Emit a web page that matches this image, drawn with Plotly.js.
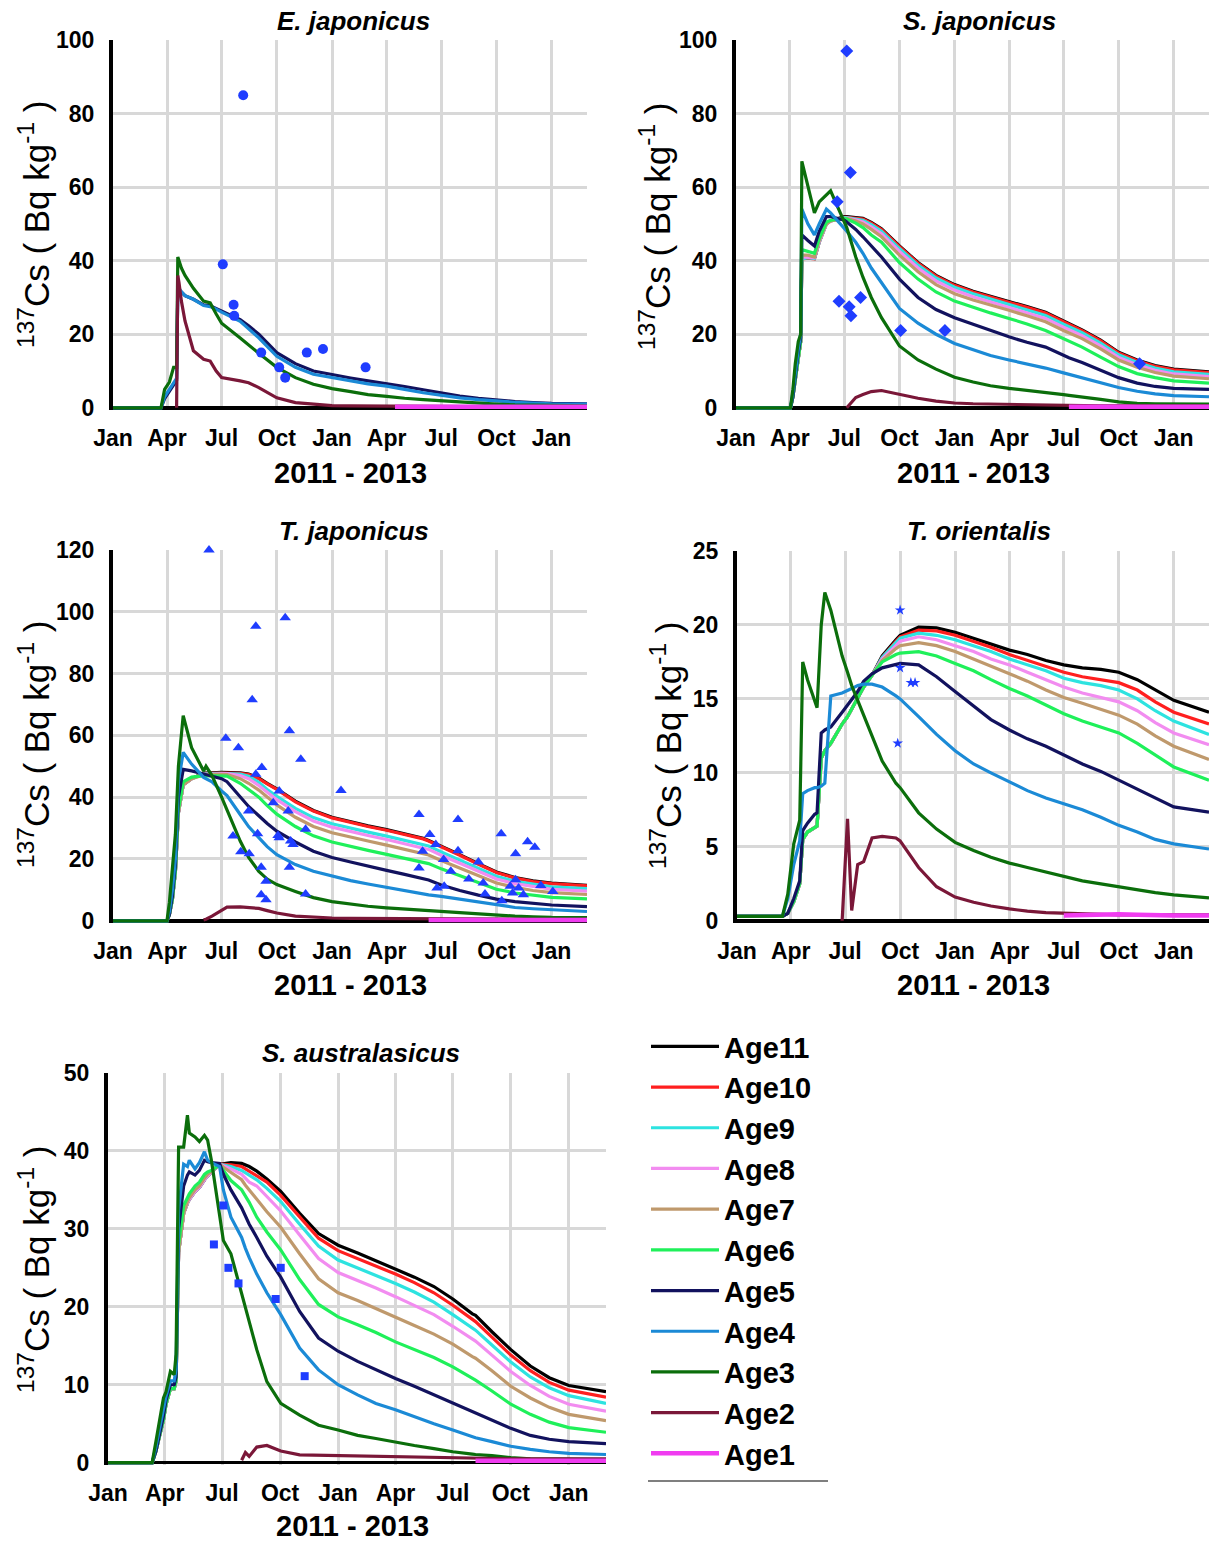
<!DOCTYPE html>
<html>
<head>
<meta charset="utf-8">
<script src="https://cdn.plot.ly/plotly-3.0.1.min.js"></script>
<style>html,body{margin:0;padding:0;background:#fff;}#chart{width:1218px;height:1546px;}</style>
</head>
<body>
<div id="chart"></div>
<script>
// ---------------- Data ----------------
const ageNames = ['Age11','Age10','Age9','Age8','Age7','Age6','Age5','Age4','Age3','Age2','Age1'];
const panelTitles = ['E. japonicus','S. japonicus','T. japonicus','T. orientalis','S. australasicus'];
const xTitle = '2011 - 2013';
const yTitle = '<sup>137</sup>Cs ( Bq kg<sup>-1</sup> )';

// E. japonicus
const ejDates = ['2011-01-01','2011-03-22','2011-03-28','2011-04-05','2011-04-12','2011-04-17','2011-04-19','2011-04-21','2011-04-25','2011-05-01','2011-05-15','2011-06-01','2011-06-12','2011-06-22','2011-07-01','2011-08-01','2011-08-15','2011-09-01','2011-10-01','2011-11-01','2011-12-01','2012-01-01','2012-02-01','2012-03-01','2012-04-01','2012-04-15','2012-05-01','2012-06-01','2012-07-01','2012-08-01','2012-09-01','2012-10-01','2012-11-01','2012-12-01','2013-01-01','2013-03-01'];
const ejAge5 = [0,0,2.5,4.5,6.5,7.5,32,32,31.5,30.5,29.5,28,27.7,27,26.3,24,22.3,20,15,12,10,9,8.1,7.3,6.6,6.2,5.8,4.9,4.0,3.2,2.6,2.1,1.7,1.4,1.2,1.1];
const ejAge4 = [0,0,3,5,7,8,33,32.5,31.5,30.5,29.5,27.8,27.5,26.8,26,23.5,21.5,19,14,11,9.1,8.2,7.3,6.5,5.9,5.4,5.0,4.1,3.4,2.7,2.2,1.8,1.5,1.3,1.1,1.0];
const ejAge3 = [0,0,5,7,11,11,41,40,38,36,32.5,29,28.5,25.5,23,19,17,14.8,11,8.2,6.4,5.2,4.4,3.6,3.1,2.8,2.6,2.2,1.9,1.5,1.2,1.0,0.8,0.7,0.6,0.5];
const ejAge2 = [null,null,null,null,null,0,36,34,29,23.6,15.5,13.2,12.7,10,8.2,7.3,6.8,5.5,2.7,1.4,0.9,0.6,0.5,0.45,0.4,0.4,0.35,0.3,0.3,0.3,0.3,0.3,0.3,0.3,0.3,0.3];
const ejAge1 = [null,null,null,null,null,null,null,null,null,null,null,null,null,null,null,null,null,null,null,null,null,null,null,null,null,0.25,0.25,0.25,0.25,0.25,0.25,0.25,0.25,0.25,0.25,0.25];
const ejObsDates = ['2011-07-03','2011-07-21','2011-07-22','2011-08-06','2011-09-05','2011-10-05','2011-10-15','2011-11-20','2011-12-17','2012-02-26'];
const ejObsValues = [39,28,25,85,15,11,8.2,15,16,11];

// S. japonicus
const sjDates = ['2011-01-01','2011-04-02','2011-04-06','2011-04-10','2011-04-15','2011-04-19','2011-04-21','2011-05-01','2011-05-12','2011-05-20','2011-06-01','2011-06-08','2011-07-01','2011-07-05','2011-07-20','2011-08-01','2011-08-15','2011-09-01','2011-10-01','2011-11-01','2011-12-01','2012-01-01','2012-02-01','2012-03-01','2012-04-01','2012-05-01','2012-06-01','2012-07-01','2012-07-10','2012-08-01','2012-09-01','2012-10-01','2012-11-01','2012-12-01','2013-01-01','2013-03-01'];
const sjAge11 = [0,0,3,8,14,18,40.6,40.8,40.6,45.1,50.1,50.9,52,52,51.7,51.5,50.4,48.7,44,39.5,36,33.5,31.7,30.4,29,27.5,26,23.6,22.9,21.2,18.4,15.1,13,11.5,10.5,9.8];
const sjAge10 = [0,0,3,8,14,18,40.5,40.7,40.5,45,50,50.8,51.8,51.8,51.5,51.3,50.2,48.5,43.8,39.3,35.8,33.3,31.5,30.2,28.8,27.3,25.8,23.4,22.7,21,18.2,14.9,12.8,11.3,10.3,9.6];
const sjAge9 = [0,0,3,8,14,18,40.5,40.8,40.6,45,50,50.8,51.7,51.7,51.3,51,49.8,48,43.3,38.8,35.3,32.8,31,29.6,28.1,26.6,25.1,22.7,22,20.4,17.6,14.4,12.3,10.8,9.8,9.1];
const sjAge8 = [0,0,3,8,14,18,41,41,40.8,45.2,50,50.8,51.6,51.6,51.1,50.5,49.2,47.3,42.5,38,34.5,32,30.2,28.8,27.3,25.8,24.3,21.9,21.2,19.6,16.8,13.7,11.7,10.2,9.2,8.5];
const sjAge7 = [0,0,3,8,14,18,41.5,41.5,41,45.5,50,50.8,51.5,51.5,50.8,50,48.5,46.5,41.5,37,33.5,31,29.3,28,26.5,25,23.4,21,20.3,18.8,16,13,11,9.6,8.6,7.9];
const sjAge6 = [0,0,3,8,14,18,43,42.5,42,46,50.5,51,51.5,51.3,50.2,49,47,45,39.5,35,31.5,29,27.3,25.8,24.3,22.8,21,18.7,18,16.5,13.8,11.2,9.3,8.2,7.3,6.7];
const sjAge5 = [0,0,3,9,15,19,47,45.5,44,48,52,52,51,50.5,48.5,46.5,44,41,35,30,26.7,24.5,22.7,21,19.3,17.8,16.5,14.3,13.6,12.3,10.2,8.2,6.7,5.8,5.3,5.0];
const sjAge4 = [0,0,4,10,16,20,54,50,47,50,54,53,49,48,45,42,38,34,27,23,20,17.5,15.8,14.2,13,12,10.8,9.5,9.1,8.2,6.8,5.5,4.5,3.8,3.3,3.0];
const sjAge3 = [0,0,5,12,18,20,67,60,53,56,58,59,50.5,49,41,35.5,30,24.5,16.8,13,10.5,8.3,7,6,5.3,4.8,4.3,3.6,3.4,3,2.3,1.6,1.2,1.1,1.0,1.0];
const sjAge2 = [null,null,null,null,null,null,null,null,null,null,null,null,null,0,2.8,3.6,4.4,4.7,3.6,2.6,1.8,1.3,1.1,1.0,0.9,0.8,0.7,0.6,0.6,0.55,0.5,0.5,0.5,0.5,0.5,0.5];
const sjAge1 = [null,null,null,null,null,null,null,null,null,null,null,null,null,null,null,null,null,null,null,null,null,null,null,null,null,null,null,null,0.25,0.25,0.25,0.25,0.25,0.25,0.25,0.25];
const sjObsDates = ['2011-06-19','2011-06-22','2011-07-05','2011-07-09','2011-07-11','2011-07-12','2011-07-28','2011-10-03','2011-12-16','2012-11-05'];
const sjObsValues = [56,29,97,27.5,64,25,30,21,21,12];

// T. japonicus
const tjDates = ['2011-01-01','2011-04-01','2011-04-05','2011-04-10','2011-04-15','2011-04-20','2011-04-28','2011-05-12','2011-06-01','2011-06-05','2011-06-15','2011-07-01','2011-07-10','2011-08-01','2011-08-15','2011-09-01','2011-09-15','2011-10-01','2011-11-01','2011-12-01','2012-01-01','2012-02-01','2012-03-01','2012-04-01','2012-05-01','2012-06-01','2012-06-10','2012-07-01','2012-08-01','2012-09-01','2012-10-01','2012-11-01','2012-12-01','2013-01-01','2013-03-01'];
const tjAge11 = [0,0,2,7,16,35,44,46,47.8,47.9,47.9,48,48,47.9,47.5,46.2,44.5,42.7,38.7,35.7,33.5,32,30.7,29.5,28.2,26.7,26,24.2,21.4,18.5,15.8,14,12.9,12.2,11.5];
const tjAge10 = [0,0,2,7,16,35,44,46,47.6,47.7,47.7,47.8,47.8,47.7,47.3,46,44.3,42.5,38.5,35.5,33.3,31.8,30.5,29.3,28,26.5,25.8,24,21.2,18.3,15.6,13.8,12.7,12,11.3];
const tjAge9 = [0,0,2,7,16,35,44,46,47.5,47.6,47.6,47.7,47.7,47.5,46.8,44.8,42.5,40.3,36.4,33.4,31.4,29.9,28.7,27.4,26.1,24.7,24.2,22.3,19.6,17,14.4,12.8,11.8,11,10.4];
const tjAge8 = [0,0,2,7,16,35,44,46,47.4,47.5,47.5,47.6,47.6,47,46,43.8,41.5,39.2,35.3,32.3,30.3,28.8,27.6,26.3,25,23.6,23.1,21.2,18.6,16,13.5,12,11,10.2,9.6];
const tjAge7 = [0,0,2,7,16,35,44,46,47.2,47.3,47.4,47.4,47.3,46,44.5,42.3,40,37.5,33.5,30.5,28.5,27,25.8,24.5,23.2,21.8,21.3,19.5,17,14.5,12.2,10.8,9.8,9.1,8.5];
const tjAge6 = [0,0,2,7,16,36,45,46.5,47,47,47,47,46.8,44.5,42.5,40,37.3,34.5,30.5,27.5,25.5,24,22.8,21.5,20.2,19,18.5,16.8,14.5,12.2,10.2,9,8.2,7.6,7.1];
const tjAge5 = [0,0,2,8,18,40,49,48.5,47.5,47.3,47,46,45,40,37,34,31.5,29,25.5,22.5,20.5,19,17.6,16.3,15,13.6,13.2,11.6,9.8,8.3,7,6.2,5.6,5.1,4.6];
const tjAge4 = [0,0,3,10,20,45,54.5,50.7,46.4,46,45,42,40.5,34.4,30.5,26.9,24,21.4,18.2,16,14.4,13,11.9,10.8,9.7,8.7,8.4,7.9,7,6.3,5.2,4.3,3.9,3.5,3.0];
const tjAge3 = [0,0,6,16,28,50,66.4,56,48.5,50,47,40,36,25.8,20.5,16,13.5,11.7,9.5,7.5,6.2,5.3,4.7,4.2,3.8,3.4,3.3,3.0,2.6,2.2,1.8,1.5,1.3,1.1,1.0];
const tjAge2 = [null,null,null,null,null,null,null,null,0.3,0.5,1.5,3.2,4.4,4.5,4.3,4.0,3.3,2.5,1.5,1.1,0.9,0.8,0.75,0.7,0.65,0.6,0.6,0.55,0.5,0.5,0.5,0.5,0.5,0.5,0.5];
const tjAge1 = [null,null,null,null,null,null,null,null,null,null,null,null,null,null,null,null,null,null,null,null,null,null,null,null,null,null,0.25,0.25,0.25,0.25,0.25,0.25,0.25,0.25,0.25];
const tjObsDates = ['2011-06-10','2011-07-08','2011-07-29','2011-07-20','2011-08-02','2011-08-16','2011-08-21','2011-08-27','2011-08-15','2011-08-27','2011-09-06','2011-08-30','2011-09-05','2011-09-13','2011-09-05','2011-09-13','2011-10-05','2011-09-25','2011-10-03','2011-10-05','2011-10-15','2011-10-22','2011-10-20','2011-10-24','2011-10-28','2011-10-22','2011-11-10','2011-11-18','2011-11-18','2012-01-16','2012-05-25','2012-05-31','2012-05-25','2012-06-12','2012-06-22','2012-06-24','2012-07-05','2012-07-06','2012-07-17','2012-07-29','2012-07-29','2012-08-16','2012-09-01','2012-09-09','2012-09-12','2012-10-09','2012-10-10','2012-10-24','2012-10-28','2012-11-02','2012-11-02','2012-11-07','2012-11-15','2012-11-22','2012-12-04','2012-12-14','2013-01-03'];
const tjObsValues = [120,59.1,56,27.4,22.3,21.7,71.5,95.3,35.5,47.4,49.6,28.2,17.3,12.8,8.4,6.8,42,38.2,27.6,26.9,98.1,61.5,35.5,25.8,24.7,17.3,52.3,29.6,8.7,42.2,34.4,22.5,17.1,27.9,24.7,10.6,19.8,11.2,16,32.8,22.7,13.5,19,12.2,8.7,28.2,6.5,11.2,9,21.7,13.3,10.6,8.4,25.6,23.8,11.4,9.5];

// T. orientalis
const toDates = ['2011-01-01','2011-03-18','2011-03-27','2011-04-06','2011-04-16','2011-04-21','2011-04-29','2011-05-11','2011-05-15','2011-05-22','2011-05-28','2011-06-07','2011-06-26','2011-07-05','2011-07-12','2011-07-22','2011-08-01','2011-08-15','2011-09-01','2011-09-24','2011-10-01','2011-11-01','2011-12-01','2012-01-01','2012-02-01','2012-03-01','2012-04-01','2012-05-01','2012-06-01','2012-07-01','2012-08-01','2012-09-01','2012-10-01','2012-11-01','2012-12-01','2013-01-01','2013-03-01'];
const toAge11 = [0.3,0.3,0.5,1.3,2.5,5.5,6,6.3,6.4,11,11.5,12,13.3,13.8,14.3,15,15.8,16.6,17.9,19.0,19.3,19.85,19.8,19.5,19.1,18.7,18.3,18.0,17.6,17.3,17.1,17.0,16.8,16.3,15.6,14.9,14.1];
const toAge10 = [0.3,0.3,0.5,1.3,2.5,5.5,6,6.3,6.4,11,11.5,12,13.3,13.8,14.3,15,15.8,16.6,17.8,18.9,19.2,19.65,19.6,19.3,18.9,18.5,18.0,17.6,17.2,16.8,16.5,16.3,16.1,15.6,14.8,14.1,13.3];
const toAge9 = [0.3,0.3,0.5,1.3,2.5,5.5,6,6.3,6.4,11,11.5,12,13.3,13.8,14.3,15,15.8,16.6,17.8,18.8,19.1,19.45,19.3,19.0,18.6,18.2,17.7,17.3,16.9,16.4,16.1,15.9,15.6,15.0,14.2,13.5,12.6];
const toAge8 = [0.3,0.3,0.5,1.3,2.5,5.5,6,6.3,6.4,11,11.5,12,13.3,13.8,14.3,15,15.8,16.6,17.7,18.6,18.9,19.2,19.0,18.6,18.2,17.7,17.3,16.8,16.3,15.8,15.4,15.1,14.8,14.2,13.4,12.7,11.9];
const toAge7 = [0.3,0.3,0.5,1.3,2.5,5.5,6,6.3,6.4,11,11.5,12,13.3,13.8,14.3,15,15.8,16.6,17.6,18.4,18.6,18.8,18.6,18.2,17.7,17.2,16.7,16.2,15.6,15.1,14.7,14.3,13.9,13.3,12.5,11.8,10.9];
const toAge6 = [0.3,0.3,0.5,1.3,2.5,5.5,6,6.3,6.4,11,11.5,12,13.3,13.8,14.3,15,15.8,16.6,17.5,18.0,18.1,18.2,17.9,17.4,16.9,16.3,15.7,15.2,14.6,14.0,13.5,13.1,12.7,12.0,11.2,10.4,9.5];
const toAge5 = [0.3,0.3,0.5,1.5,2.7,6.1,6.6,7.2,7.3,12.7,12.9,13.1,14.1,14.6,15,15.5,16.2,16.7,17.1,17.35,17.4,17.3,16.5,15.5,14.5,13.6,12.9,12.3,11.8,11.2,10.6,10.1,9.5,8.9,8.3,7.7,7.35];
const toAge4 = [0.3,0.3,1.5,3.8,5.4,8.6,8.8,9,9,9.1,9.3,15.2,15.4,15.6,15.7,15.9,16,16,15.8,15.2,15,13.8,12.6,11.5,10.6,10,9.4,8.8,8.3,7.9,7.5,7.0,6.45,6.0,5.5,5.2,4.85];
const toAge3 = [0.3,0.3,1.8,5.2,6.8,17.5,16.3,14.8,14.4,20,22.2,21,17.9,16.8,15.9,14.9,13.9,12.5,10.8,9.3,9.0,7.3,6.2,5.3,4.75,4.3,3.9,3.6,3.3,3.0,2.7,2.5,2.3,2.05,1.9,1.75,1.55];
const toAge2 = [null,null,null,null,null,null,null,null,null,null,null,null,0,6.9,0.7,3.8,4.0,5.6,5.7,5.6,5.4,3.6,2.3,1.6,1.25,1.0,0.8,0.65,0.55,0.5,0.45,0.45,0.4,0.4,0.4,0.4,0.4];
const toAge1 = [null,null,null,null,null,null,null,null,null,null,null,null,null,null,null,null,null,null,null,null,null,null,null,null,null,null,null,null,null,0.35,0.4,0.45,0.45,0.4,0.35,0.35,0.35];
const toObsDates = ['2011-10-01','2011-10-01','2011-10-19','2011-10-26','2011-09-27'];
const toObsValues = [21,17.1,16.1,16.1,12];

// S. australasicus
const saDates = ['2011-01-01','2011-03-12','2011-03-18','2011-03-30','2011-04-03','2011-04-10','2011-04-16','2011-04-19','2011-04-23','2011-05-01','2011-05-07','2011-05-10','2011-05-19','2011-05-26','2011-06-03','2011-06-08','2011-06-14','2011-06-27','2011-07-03','2011-07-15','2011-08-01','2011-08-07','2011-08-13','2011-08-25','2011-09-10','2011-10-02','2011-11-01','2011-12-01','2012-01-01','2012-02-01','2012-03-01','2012-04-01','2012-05-01','2012-06-01','2012-07-01','2012-08-01','2012-08-06','2012-09-01','2012-10-01','2012-11-01','2012-12-01','2013-01-01','2013-03-01'];
const saAge11 = [0,0,1.5,5.5,7.5,9.5,9.5,10.5,27,32,33.3,33.8,34.8,35.3,36.3,36.8,37.3,38.3,38.4,38.5,38.4,38.2,38,37.4,36.4,34.8,32,29.4,27.9,26.9,25.9,24.9,23.8,22.6,21,19.1,18.9,16.8,14.5,12.4,10.9,9.9,9.1];
const saAge10 = [0,0,1.5,5.5,7.5,9.5,9.5,10.5,27,32,33.3,33.8,34.8,35.3,36.3,36.8,37.3,38.3,38.3,38.2,38,37.7,37.4,36.9,36,34.3,31.5,28.8,27.2,26.2,25.2,24.2,23.1,21.8,20.2,18.3,18.1,16.1,13.8,11.8,10.3,9.3,8.4];
const saAge9 = [0,0,1.5,5.5,7.5,9.5,9.5,10.5,27,32,33.3,33.8,34.8,35.3,36.3,36.8,37.3,38.3,38.2,38,37.5,37.2,36.9,36.3,35.2,33.5,30.6,27.8,26,25,24,23,21.9,20.6,19,17.2,17,15.1,12.9,11,9.6,8.6,7.6];
const saAge8 = [0,0,1.5,5.5,7.5,9.5,9.5,10.5,27,32,33.3,33.8,34.8,35.3,36.3,36.8,37.3,38.3,38.1,37.7,37,36.5,36,35.5,34.2,32.3,29.2,26.2,24.4,23.4,22.4,21.3,20.2,19,17.5,15.8,15.6,13.8,11.7,9.9,8.5,7.5,6.6];
const saAge7 = [0,0,1.5,5.5,7.5,9.5,9.5,10.5,27,32,33.5,34,35,35.5,36.5,37,37.4,38.3,37.9,37.2,36.3,35.6,35,33.8,32.2,30.2,26.8,23.6,21.8,20.8,19.8,18.7,17.6,16.5,15.2,13.6,13.4,11.8,9.8,8.3,7.1,6.2,5.4];
const saAge6 = [0,0,1.5,5.5,7.5,9.5,9.5,10.5,28,33,34,34.5,35.5,36,37,37.3,37.5,38.2,37.5,36.2,35,34.2,33.4,31.5,29.6,27.3,23.5,20.3,18.7,17.7,16.7,15.5,14.5,13.5,12.3,10.8,10.6,9.2,7.5,6.2,5.2,4.5,3.9];
const saAge5 = [0,0,1.5,6,8,10,10,11,30,35.5,36.9,37.3,36.9,37.5,38.8,38.6,38.5,38.4,37,35,32.7,31.6,30.6,28.9,26.5,23.8,19.4,16,14.3,13,11.9,10.8,9.8,8.7,7.6,6.5,6.4,5.5,4.4,3.5,3.0,2.7,2.45];
const saAge4 = [0,0,2,7,8.5,10.5,10.5,12,32.4,38.3,38,38.8,37.7,38.5,39.9,38.8,38.5,38,35,31.5,28.9,27.5,26.3,24.2,21.8,19,14.7,11.9,10,8.7,7.6,6.8,5.9,5,4.2,3.3,3.2,2.7,2.1,1.7,1.4,1.2,1.05];
const saAge3 = [0,0,2.7,8.3,9.1,11.7,11.3,13.9,40.5,40.5,44.6,42.3,41.8,41.2,42,41.4,38.8,31.5,28.5,26.8,21.6,20,18,14.5,10.4,7.6,6.1,4.8,4.2,3.5,3.1,2.6,2.2,1.8,1.4,1.1,1.05,0.9,0.65,0.5,0.45,0.4,0.4];
const saAge2 = [null,null,null,null,null,null,null,null,null,null,null,null,null,null,null,null,null,null,null,null,0.3,1.3,0.8,2.0,2.2,1.5,1.0,0.95,0.9,0.85,0.8,0.75,0.7,0.65,0.6,0.55,0.55,0.5,0.5,0.5,0.5,0.5,0.5];
const saAge1 = [null,null,null,null,null,null,null,null,null,null,null,null,null,null,null,null,null,null,null,null,null,null,null,null,null,null,null,null,null,null,null,null,null,null,null,null,0.25,0.25,0.25,0.25,0.25,0.25,0.25];
const saObsDates = ['2011-06-18','2011-07-03','2011-07-11','2011-07-27','2011-09-24','2011-10-02','2011-11-09'];
const saObsValues = [28,33,25,23,21,25,11.1];

// ---------------- Styling ----------------
const ageColors = {Age11:'#000000',Age10:'#ff1f1f',Age9:'#2de3e0',Age8:'#f28cf0',Age7:'#bf996c',Age6:'#1ff05a',Age5:'#12125e',Age4:'#1b8ad6',Age3:'#0b6e0b',Age2:'#7a1738',Age1:'#f03cf0'};
const FONT = 'Liberation Sans, Arial, Helvetica, sans-serif';
const W = 1218, H = 1546;
const px = v => v / W;
const py = v => 1 - v / H;

const panels = [
  {dates: ejDates, series: {Age5: ejAge5, Age4: ejAge4, Age3: ejAge3, Age2: ejAge2, Age1: ejAge1}, obsX: ejObsDates, obsY: ejObsValues, symbol: 'circle', msize: 10,
   xd: [113, 587], yd: [40, 410], yr: [-0.6, 100], dt: 20, title: [353, 21], xt: [350, 473], yt: [34, 225]},
  {dates: sjDates, series: {Age11: sjAge11, Age10: sjAge10, Age9: sjAge9, Age8: sjAge8, Age7: sjAge7, Age6: sjAge6, Age5: sjAge5, Age4: sjAge4, Age3: sjAge3, Age2: sjAge2, Age1: sjAge1}, obsX: sjObsDates, obsY: sjObsValues, symbol: 'diamond', msize: 10,
   xd: [736, 1209], yd: [40, 410], yr: [-0.6, 100], dt: 20, title: [979, 21], xt: [973, 473], yt: [655, 227]},
  {dates: tjDates, series: {Age11: tjAge11, Age10: tjAge10, Age9: tjAge9, Age8: tjAge8, Age7: tjAge7, Age6: tjAge6, Age5: tjAge5, Age4: tjAge4, Age3: tjAge3, Age2: tjAge2, Age1: tjAge1}, obsX: tjObsDates, obsY: tjObsValues, symbol: 'triangle-up', msize: 10,
   xd: [113, 587], yd: [550, 923], yr: [-0.72, 120], dt: 20, title: [354, 531], xt: [350, 985], yt: [34, 745]},
  {dates: toDates, series: {Age11: toAge11, Age10: toAge10, Age9: toAge9, Age8: toAge8, Age7: toAge7, Age6: toAge6, Age5: toAge5, Age4: toAge4, Age3: toAge3, Age2: toAge2, Age1: toAge1}, obsX: toObsDates, obsY: toObsValues, symbol: 'star', msize: 8,
   xd: [737, 1209], yd: [551, 923], yr: [-0.15, 25], dt: 5, title: [979, 531], xt: [973, 985], yt: [666, 746]},
  {dates: saDates, series: {Age11: saAge11, Age10: saAge10, Age9: saAge9, Age8: saAge8, Age7: saAge7, Age6: saAge6, Age5: saAge5, Age4: saAge4, Age3: saAge3, Age2: saAge2, Age1: saAge1}, obsX: saObsDates, obsY: saObsValues, symbol: 'square', msize: 8,
   xd: [108, 606], yd: [1073, 1465], yr: [-0.3, 50], dt: 10, title: [361, 1053], xt: [352, 1526], yt: [34, 1270]}
];

const data = [];
const layout = {
  width: W, height: H, margin: {l: 0, r: 0, t: 0, b: 0},
  paper_bgcolor: '#ffffff', plot_bgcolor: '#ffffff',
  showlegend: true, hovermode: false,
  font: {family: FONT, color: '#000'},
  legend: {x: px(646), y: py(1021), xanchor: 'left', yanchor: 'top', bgcolor: 'rgba(0,0,0,0)',
           font: {family: FONT, size: 29, color: '#000', weight: 'bold'}, tracegroupgap: 0, itemwidth: 68, traceorder: 'grouped'},
  annotations: [],
  shapes: [{type: 'line', xref: 'paper', yref: 'paper', x0: px(648), x1: px(828), y0: py(1481), y1: py(1481), line: {color: '#555', width: 1.5}}]
};

panels.forEach((p, i) => {
  const n = i + 1;
  const xa = 'x' + (n === 1 ? '' : n), ya = 'y' + (n === 1 ? '' : n);
  const xk = 'xaxis' + (n === 1 ? '' : n), yk = 'yaxis' + (n === 1 ? '' : n);
  layout[xk] = {
    type: 'date', domain: [px(p.xd[0]), px(p.xd[1])], anchor: ya,
    range: ['2011-01-01', '2013-03-01'], tick0: '2011-01-01', dtick: 'M3', tickformat: '%b',
    showgrid: true, gridcolor: '#d8d8d8', gridwidth: 3, zeroline: false, showline: false, ticks: '',
    tickfont: {family: FONT, size: 23, color: '#000', weight: 'bold'}, ticklabelstandoff: 12,
    layer: 'below traces', fixedrange: true
  };
  layout[yk] = {
    domain: [py(p.yd[1]), py(p.yd[0])], anchor: xa, range: p.yr, tick0: 0, dtick: p.dt,
    showgrid: true, gridcolor: '#d8d8d8', gridwidth: 3,
    zeroline: true, zerolinecolor: '#000', zerolinewidth: 3.5,
    showline: true, linecolor: '#000', linewidth: 4, ticks: '',
    tickfont: {family: FONT, size: 23, color: '#000', weight: 'bold'}, ticklabelstandoff: 10,
    layer: 'below traces', fixedrange: true
  };
  ageNames.forEach(a => {
    if (!p.series[a]) return;
    data.push({
      type: 'scatter', mode: 'lines', x: p.dates, y: p.series[a], xaxis: xa, yaxis: ya,
      name: a, legendgroup: a, showlegend: i === 4, connectgaps: false,
      line: {color: ageColors[a], width: a === 'Age1' ? 4.5 : 3.2}
    });
  });
  data.push({
    type: 'scatter', mode: 'markers', x: p.obsX, y: p.obsY, xaxis: xa, yaxis: ya,
    showlegend: false, cliponaxis: false,
    marker: {symbol: p.symbol, size: p.msize, color: '#1f3dff', line: {width: 0}}
  });
  layout.annotations.push({xref: 'paper', yref: 'paper', x: px(p.title[0]), y: py(p.title[1]), xanchor: 'center', yanchor: 'middle',
    text: '<b><i>' + panelTitles[i] + '</i></b>', showarrow: false, font: {family: FONT, size: 26, color: '#000'}});
  layout.annotations.push({xref: 'paper', yref: 'paper', x: px(p.xt[0]), y: py(p.xt[1]), xanchor: 'center', yanchor: 'middle',
    text: '<b>' + xTitle + '</b>', showarrow: false, font: {family: FONT, size: 29, color: '#000'}});
  layout.annotations.push({xref: 'paper', yref: 'paper', x: px(p.yt[0]), y: py(p.yt[1]), xanchor: 'center', yanchor: 'middle',
    text: yTitle, textangle: -90, showarrow: false, font: {family: FONT, size: 35, color: '#000'}});
});

Plotly.newPlot('chart', data, layout, {staticPlot: true, displayModeBar: false});
</script>
</body>
</html>
